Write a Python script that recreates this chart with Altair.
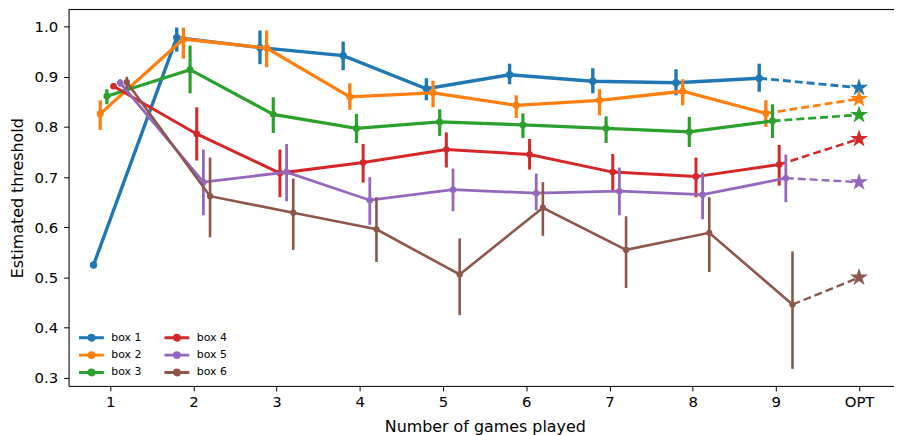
import math
import altair as alt
import pandas as pd

# ---------------- data ----------------
game_labels = ["1", "2", "3", "4", "5", "6", "7", "8", "9", "OPT"]
boxes = ["box 1", "box 2", "box 3", "box 4", "box 5", "box 6"]
colors = ["#1f77b4", "#ff7f0e", "#2ca02c", "#d62728", "#9467bd", "#8c564b"]

b1_mean = [0.525, 0.978, 0.958, 0.942, 0.876, 0.904, 0.891, 0.888, 0.897]
b1_lo = [0.519, 0.950, 0.925, 0.913, 0.853, 0.885, 0.867, 0.863, 0.870]
b1_hi = [0.531, 0.998, 0.992, 0.970, 0.897, 0.926, 0.917, 0.915, 0.926]
b1_opt = 0.878

b2_mean = [0.826, 0.975, 0.957, 0.860, 0.868, 0.843, 0.853, 0.871, 0.827]
b2_lo = [0.794, 0.936, 0.919, 0.834, 0.839, 0.818, 0.823, 0.843, 0.800]
b2_hi = [0.853, 0.998, 0.992, 0.887, 0.892, 0.863, 0.875, 0.895, 0.853]
b2_opt = 0.856

b3_mean = [0.861, 0.914, 0.825, 0.797, 0.810, 0.804, 0.797, 0.790, 0.812]
b3_lo = [0.845, 0.867, 0.788, 0.768, 0.782, 0.778, 0.768, 0.760, 0.778]
b3_hi = [0.875, 0.962, 0.859, 0.826, 0.835, 0.827, 0.821, 0.820, 0.845]
b3_opt = 0.824

b4_mean = [0.881, 0.786, 0.708, 0.729, 0.755, 0.745, 0.710, 0.701, 0.725]
b4_lo = [0.876, 0.733, 0.660, 0.689, 0.719, 0.715, 0.673, 0.660, 0.683]
b4_hi = [0.886, 0.839, 0.755, 0.766, 0.789, 0.776, 0.746, 0.739, 0.764]
b4_opt = 0.776

b5_mean = [0.888, 0.690, 0.710, 0.654, 0.675, 0.668, 0.672, 0.665, 0.698]
b5_lo = [0.880, 0.624, 0.652, 0.605, 0.632, 0.634, 0.624, 0.616, 0.650]
b5_hi = [0.895, 0.755, 0.766, 0.700, 0.717, 0.707, 0.719, 0.709, 0.745]
b5_opt = 0.690

b6_mean = [0.889, 0.662, 0.629, 0.596, 0.506, 0.639, 0.555, 0.589, 0.446]
b6_lo = [0.875, 0.580, 0.555, 0.531, 0.425, 0.583, 0.479, 0.511, 0.318]
b6_hi = [0.900, 0.739, 0.697, 0.660, 0.578, 0.690, 0.622, 0.660, 0.552]
b6_opt = 0.500

means = [b1_mean, b2_mean, b3_mean, b4_mean, b5_mean, b6_mean]
los = [b1_lo, b2_lo, b3_lo, b4_lo, b5_lo, b6_lo]
his = [b1_hi, b2_hi, b3_hi, b4_hi, b5_hi, b6_hi]
opts = [b1_opt, b2_opt, b3_opt, b4_opt, b5_opt, b6_opt]

# ---------------- style ----------------
W, H = 831, 379
FONT = "DejaVu Sans"
dodge = [-0.2, -0.12, -0.04, 0.04, 0.12, 0.2]
line_w = [3.4, 3.3, 3.2, 3.0, 2.8, 2.6]
pt_size = [55, 52, 48, 45, 42, 40]

color_scale = alt.Scale(domain=boxes, range=colors)

star_pts = []
for k in range(10):
    r = 1.0 if k % 2 == 0 else 0.382
    a = -math.pi / 2 + k * math.pi / 5
    star_pts.append(f"{r*math.cos(a):.3f},{r*math.sin(a):.3f}")
STAR = "M" + "L".join(star_pts) + "Z"

LEG_SYM = "M-1,0L4,0M2,0A0.5,0.5,0,1,1,1,0A0.5,0.5,0,1,1,2,0Z"

label_expr = "[" + ",".join(f"'{g}'" for g in game_labels) + "][datum.value]"

x_enc = alt.X(
    "xpos:Q",
    scale=alt.Scale(domain=[-0.5, 9.42], nice=False, zero=False),
    axis=alt.Axis(
        values=list(range(10)), labelExpr=label_expr, title="Number of games played",
        grid=False, domainColor="black", tickColor="black", tickSize=5,
        labelColor="black", labelFont=FONT, labelFontSize=15, labelPadding=4,
        titleFont=FONT, titleFontSize=16, titleFontWeight="normal", titleColor="black",
        titleX=419, titleY=46, titleBaseline="alphabetic", titleAlign="center",
    ),
)
y_axis = alt.Axis(
    values=[0.3, 0.4, 0.5, 0.6, 0.7, 0.8, 0.9, 1.0], format=".1f",
    title="Estimated threshold", grid=False, domainColor="black", tickColor="black",
    tickSize=5, labelColor="black", labelFont=FONT, labelFontSize=15, labelPadding=6,
    titleFont=FONT, titleFontSize=16, titleFontWeight="normal", titleColor="black",
    titleAngle=270, titleX=-51, titleY=H / 2, titleAlign="center", titleBaseline="middle",
)
y_scale = alt.Scale(domain=[0.284, 1.034], nice=False, zero=False)

legend = alt.Legend(
    orient="none", legendX=9, legendY=324, columns=2, title=None,
    symbolType=LEG_SYM, symbolSize=100, symbolStrokeWidth=3,
    labelFont=FONT, labelFontSize=11, labelColor="black", labelOffset=21,
    columnPadding=16, rowPadding=0.5, padding=0,
)
color_enc = alt.Color("box:N", scale=color_scale, legend=legend)

layers = []
for i, b in enumerate(boxes):
    df = pd.DataFrame({
        "box": b,
        "xpos": [g + dodge[i] for g in range(9)],
        "mean": means[i],
        "lo": los[i],
        "hi": his[i],
    })
    dash_df = pd.DataFrame({
        "box": b,
        "xpos": [8 + dodge[i], 9],
        "mean": [means[i][-1], opts[i]],
    })
    opt_df = pd.DataFrame({"box": [b], "xpos": [9], "mean": [opts[i]]})

    err = alt.Chart(df).mark_rule(strokeWidth=line_w[i]).encode(
        x=x_enc, y=alt.Y("lo:Q", scale=y_scale, axis=y_axis), y2="hi:Q", color=color_enc)
    line = alt.Chart(df).mark_line(strokeWidth=line_w[i]).encode(
        x=x_enc, y=alt.Y("mean:Q", scale=y_scale, axis=y_axis), color=color_enc)
    pts = alt.Chart(df).mark_point(filled=True, opacity=1, shape="circle", size=pt_size[i]).encode(
        x=x_enc, y=alt.Y("mean:Q", scale=y_scale, axis=y_axis), color=color_enc)
    dash = alt.Chart(dash_df).mark_line(strokeWidth=line_w[i] * 0.85, strokeDash=[8, 4]).encode(
        x=x_enc, y=alt.Y("mean:Q", scale=y_scale, axis=y_axis), color=color_enc)
    star = alt.Chart(opt_df).mark_point(filled=True, opacity=1, shape=STAR, size=360).encode(
        x=x_enc, y=alt.Y("mean:Q", scale=y_scale, axis=y_axis), color=color_enc)
    layers += [err, line, pts, dash, star]

top_spine = alt.Chart(pd.DataFrame({"a": [0]})).mark_rule(color="black", strokeWidth=1).encode(
    x=alt.value(0), x2=alt.value(W), y=alt.value(0))

chart = alt.layer(*layers, top_spine).properties(
    width=W, height=H,
    autosize=alt.AutoSizeParams(type="none"),
    padding={"left": 61, "top": 0, "right": 0, "bottom": 56},
).configure_view(stroke=None).configure(font=FONT)

chart.save("out.html", embed_options={"renderer": "svg", "actions": False})
